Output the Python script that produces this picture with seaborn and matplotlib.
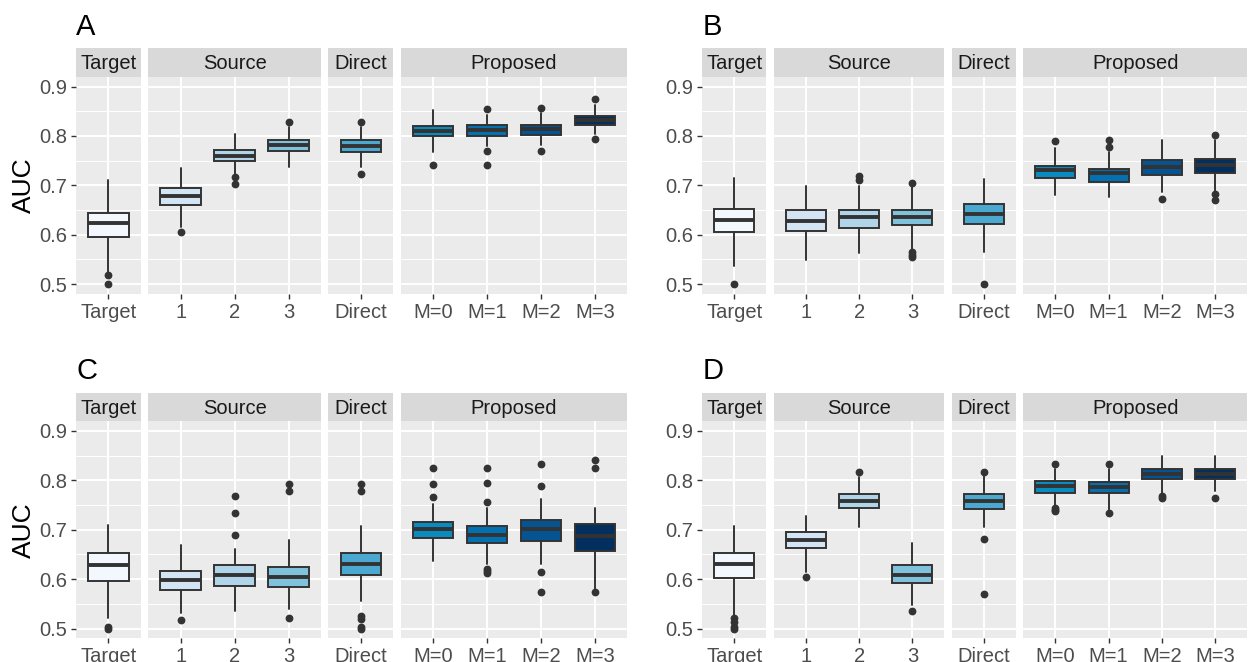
import numpy as np
import matplotlib
matplotlib.use("Agg")
import matplotlib.pyplot as plt
import seaborn as sns

sns.set_theme(style="darkgrid")
plt.rcParams["font.family"] = ["Liberation Sans", "DejaVu Sans"]

W, H = 1248, 662

facets = ["Target", "Source", "Direct", "Proposed"]
facet_ticks = [["Target"], ["1", "2", "3"], ["Direct"], ["M=0", "M=1", "M=2", "M=3"]]
box_colors = ["#F2F8FD", "#D3E5F4", "#B0D4E8", "#80C2DC", "#4BA9D1",
              "#0A8BC0", "#0570B0", "#045494", "#022F5E"]

# order of boxes: Target, Source 1-3, Direct, M=0..M=3
A_q1 = [0.596, 0.660, 0.749, 0.769, 0.767, 0.799, 0.800, 0.802, 0.822]
A_med = [0.623, 0.679, 0.760, 0.781, 0.780, 0.811, 0.812, 0.814, 0.833]
A_q3 = [0.645, 0.694, 0.772, 0.792, 0.792, 0.821, 0.822, 0.823, 0.841]
A_lo = [0.525, 0.615, 0.721, 0.737, 0.737, 0.768, 0.779, 0.782, 0.804]
A_hi = [0.711, 0.735, 0.804, 0.818, 0.818, 0.853, 0.843, 0.846, 0.863]
A_out = [[0.518, 0.500], [0.606], [0.716, 0.703], [0.828], [0.828, 0.723],
         [0.741], [0.855, 0.769, 0.741], [0.856, 0.770], [0.874, 0.794]]

B_q1 = [0.605, 0.608, 0.614, 0.619, 0.621, 0.715, 0.706, 0.721, 0.725]
B_med = [0.630, 0.627, 0.635, 0.635, 0.642, 0.731, 0.725, 0.737, 0.741]
B_q3 = [0.653, 0.650, 0.650, 0.651, 0.662, 0.740, 0.734, 0.752, 0.754]
B_lo = [0.537, 0.548, 0.563, 0.569, 0.565, 0.681, 0.677, 0.687, 0.687]
B_hi = [0.715, 0.698, 0.698, 0.698, 0.713, 0.775, 0.768, 0.792, 0.792]
B_out = [[0.500], [], [0.718, 0.711], [0.704, 0.565, 0.559, 0.555], [0.500],
         [0.789], [0.792, 0.777], [0.673], [0.801, 0.683, 0.671]]

C_q1 = [0.597, 0.577, 0.586, 0.584, 0.608, 0.683, 0.674, 0.677, 0.657]
C_med = [0.628, 0.599, 0.608, 0.604, 0.631, 0.701, 0.689, 0.701, 0.687]
C_q3 = [0.653, 0.617, 0.628, 0.624, 0.653, 0.715, 0.707, 0.719, 0.711]
C_lo = [0.521, 0.532, 0.535, 0.540, 0.555, 0.636, 0.630, 0.630, 0.579]
C_hi = [0.709, 0.669, 0.661, 0.680, 0.707, 0.753, 0.745, 0.763, 0.745]
C_out = [[0.504, 0.500], [0.518], [0.769, 0.734, 0.690], [0.792, 0.778, 0.522],
         [0.792, 0.778, 0.525, 0.520, 0.504, 0.500], [0.826, 0.792, 0.767],
         [0.826, 0.795, 0.757, 0.620, 0.617, 0.613], [0.833, 0.789, 0.614, 0.574],
         [0.841, 0.826, 0.574]]

D_q1 = [0.603, 0.663, 0.745, 0.593, 0.743, 0.775, 0.774, 0.802, 0.802]
D_med = [0.630, 0.680, 0.758, 0.609, 0.758, 0.788, 0.787, 0.813, 0.813]
D_q3 = [0.653, 0.696, 0.772, 0.628, 0.773, 0.799, 0.797, 0.824, 0.824]
D_lo = [0.528, 0.614, 0.706, 0.548, 0.706, 0.749, 0.741, 0.773, 0.778]
D_hi = [0.707, 0.728, 0.807, 0.674, 0.808, 0.822, 0.822, 0.849, 0.849]
D_out = [[0.522, 0.514, 0.504, 0.500], [0.604], [0.817], [0.536],
         [0.817, 0.682, 0.569], [0.833, 0.745, 0.741, 0.737], [0.833, 0.733],
         [0.769, 0.765], [0.765]]

GREY20 = "#333333"
FS = 14.5


def px_axes(fig, x0, y0, x1, y1):
    return fig.add_axes([x0 / W, 1 - y1 / H, (x1 - x0) / W, (y1 - y0) / H])


def draw_panel(fig, tag, left, right, top, q1, med, q3, lo, hi, out, ylabel):
    strip_h, body_h, gap = 28.4, 217.3, 7.5
    unit = (right - left - 3 * gap) / sum(len(t) + 0.2 for t in facet_ticks)
    x = left
    k = 0
    for i, (name, ticks) in enumerate(zip(facets, facet_ticks)):
        n = len(ticks)
        w = unit * (n + 0.2)
        # strip
        sax = px_axes(fig, x, top, x + w, top + strip_h)
        sax.set_facecolor("#D9D9D9")
        sax.set_xticks([])
        sax.set_yticks([])
        sax.grid(False)
        for s in sax.spines.values():
            s.set_visible(False)
        sax.text(0.5, 0.45, name, ha="center", va="center", fontsize=FS,
                 color="#1A1A1A", transform=sax.transAxes)

        ax = px_axes(fig, x, top + strip_h, x + w, top + strip_h + body_h)
        ax.set_facecolor("#EBEBEB")
        for s in ax.spines.values():
            s.set_visible(False)
        stats = []
        for j in range(n):
            stats.append(dict(med=med[k + j], q1=q1[k + j], q3=q3[k + j],
                              whislo=lo[k + j], whishi=hi[k + j], fliers=out[k + j]))
        bp = ax.bxp(stats, positions=range(n), widths=0.75, patch_artist=True,
                    showcaps=False,
                    boxprops=dict(edgecolor=GREY20, linewidth=1.4),
                    medianprops=dict(color=GREY20, linewidth=2.8, solid_capstyle="butt"),
                    whiskerprops=dict(color=GREY20, linewidth=1.4),
                    flierprops=dict(marker="o", markerfacecolor=GREY20,
                                    markeredgecolor=GREY20, markersize=4.6))
        for j, patch in enumerate(bp["boxes"]):
            patch.set_facecolor(box_colors[k + j])
        k += n

        ax.set_xlim(-0.6, n - 0.4)
        ax.set_ylim(0.48, 0.92)
        ax.set_axisbelow(True)
        ax.set_xticks(range(n))
        ax.set_xticklabels(ticks)
        ax.set_yticks([0.5, 0.6, 0.7, 0.8, 0.9])
        ax.set_yticks([0.55, 0.65, 0.75, 0.85], minor=True)
        ax.grid(True, which="major", color="white", linewidth=1.4)
        ax.grid(True, which="minor", axis="y", color="white", linewidth=0.7)
        ax.tick_params(axis="x", which="major", bottom=True, length=3.8, width=1.0,
                       color=GREY20, labelsize=FS, labelcolor="#4D4D4D", pad=2.5)
        ax.tick_params(axis="y", which="minor", left=False)
        if i == 0:
            ax.set_yticklabels(["0.5", "0.6", "0.7", "0.8", "0.9"])
            ax.tick_params(axis="y", which="major", left=True, length=3.8, width=1.0,
                           color=GREY20, labelsize=FS, labelcolor="#4D4D4D", pad=2.5)
            if ylabel:
                ax.set_ylabel("AUC", fontsize=19, color="black")
                ax.yaxis.set_label_coords((36 - left) / w, 0.5)
        else:
            ax.tick_params(axis="y", which="major", left=False, labelleft=False)
        x += w + gap

    fig.text(left / W, 1 - (top - 13.5) / H, tag, fontsize=21, color="black",
             ha="left", va="baseline")


fig = plt.figure(figsize=(W / 100, H / 100), dpi=100)
draw_panel(fig, "A", 76, 627.3, 48.3, A_q1, A_med, A_q3, A_lo, A_hi, A_out, True)
draw_panel(fig, "B", 702.3, 1247.3, 48.3, B_q1, B_med, B_q3, B_lo, B_hi, B_out, False)
draw_panel(fig, "C", 76, 627.3, 392.7, C_q1, C_med, C_q3, C_lo, C_hi, C_out, True)
draw_panel(fig, "D", 702.3, 1247.3, 392.7, D_q1, D_med, D_q3, D_lo, D_hi, D_out, False)

fig.savefig("out.png", dpi=100)
